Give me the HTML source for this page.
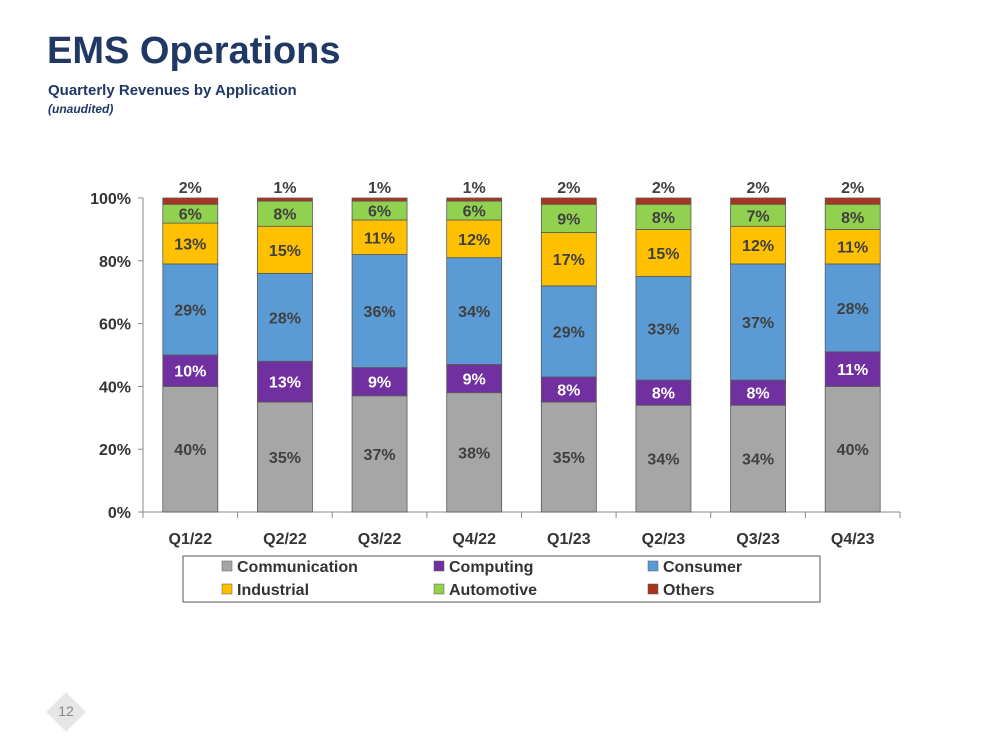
<!DOCTYPE html>
<html><head><meta charset="utf-8"><style>
body{margin:0;width:1000px;height:752px;background:#fff;overflow:hidden;font-family:"Liberation Sans",sans-serif}
</style></head><body>
<div style="position:relative;width:1000px;height:752px">
<div style="position:absolute;left:47px;top:30px;font-size:38px;font-weight:bold;color:#1f3864">EMS Operations</div>
<div style="position:absolute;left:48px;top:82px;font-size:15px;font-weight:bold;color:#1f3864">Quarterly Revenues by Application</div>
<div style="position:absolute;left:48px;top:102px;font-size:12px;font-weight:bold;font-style:italic;color:#1f3864">(unaudited)</div>
<svg id="chart" width="1000" height="752" style="position:absolute;left:0;top:0"></svg>
<div style="position:absolute;left:52px;top:698px;width:28px;height:28px;background:#e6e6e6;transform:rotate(45deg)"></div>
<div style="position:absolute;left:52px;top:703px;width:28px;text-align:center;font-size:14px;color:#888">12</div>
</div>
<script>
const categories=["Q1/22","Q2/22","Q3/22","Q4/22","Q1/23","Q2/23","Q3/23","Q4/23"];
const seriesNames=["Communication","Computing","Consumer","Industrial","Automotive","Others"];
const communication=[40,35,37,38,35,34,34,40];
const computing=[10,13,9,9,8,8,8,11];
const consumer=[29,28,36,34,29,33,37,28];
const industrial=[13,15,11,12,17,15,12,11];
const automotive=[6,8,6,6,9,8,7,8];
const others=[2,1,1,1,2,2,2,2];
const yTicks=[0,20,40,60,80,100];
const series=[communication,computing,consumer,industrial,automotive,others];
const colors=["#a6a6a6","#7030a0","#5b9bd5","#ffc000","#92d050","#a9341f"];
const ns="http://www.w3.org/2000/svg";
const svg=document.getElementById('chart');
const x0=143,x1=900,y0=512,y1=198,bw=55;
const band=(x1-x0)/categories.length;
const xC=i=>x0+band*(i+0.5);
const y=v=>y0-(v/100)*(y0-y1);
function mk(t,a){const e=document.createElementNS(ns,t);for(const k in a)e.setAttribute(k,a[k]);svg.appendChild(e);return e;}
function txt(s,x,yy,fill,size,anchor){const e=mk('text',{x:x,y:yy,fill:fill,'font-size':size,'font-weight':'bold','text-anchor':anchor||'middle','font-family':'Liberation Sans, sans-serif'});e.textContent=s;return e;}
let ax=mk('line',{x1:x0,y1:y0,x2:x0,y2:y1,stroke:'#888'});

let xa=mk('line',{x1:x0,y1:y0,x2:x1,y2:y0,stroke:'#888'});

yTicks.forEach(t=>{
 mk('line',{x1:x0-5,y1:y(t),x2:x0,y2:y(t),stroke:'#888'});
 const l=txt(t+'%',x0-12,y(t)+6,'#333',16,'end');
 
});
for(let i=0;i<=categories.length;i++)mk('line',{x1:x0+band*i,y1:y0,x2:x0+band*i,y2:y0+6,stroke:'#888'});
categories.forEach((c,i)=>{
 const l=txt(c,xC(i),y0+32,'#333',16);
 
 let acc=0;
 series.forEach((s,k)=>{
  const v=s[i];
  const r=mk('rect',{x:xC(i)-bw/2,y:y(acc+v),width:bw,height:y(acc)-y(acc+v),fill:colors[k],stroke:'#595959','stroke-width':0.8});
  
  
  let ly;
  if(k===5) ly=y(acc+v)-5; else ly=(y(acc)+y(acc+v))/2+6;
  const lbl=txt(v+'%',xC(i),ly,k===1?'#fff':'#404040',16);
  
  acc+=v;
 });
});
const lg=mk('rect',{x:183,y:556,width:637,height:46,fill:'#fff',stroke:'#555'});

const lx=[222,434,648];
seriesNames.forEach((n,k)=>{
 const cx=lx[k%3],cy=k<3?566:589;
 const sw=mk('rect',{x:cx,y:cy-5,width:10,height:10,fill:colors[k],stroke:'#595959','stroke-width':0.5});
 
 const t=txt(n,cx+15,cy+6,'#333',16,'start');
 
});
</script>
</body></html>
